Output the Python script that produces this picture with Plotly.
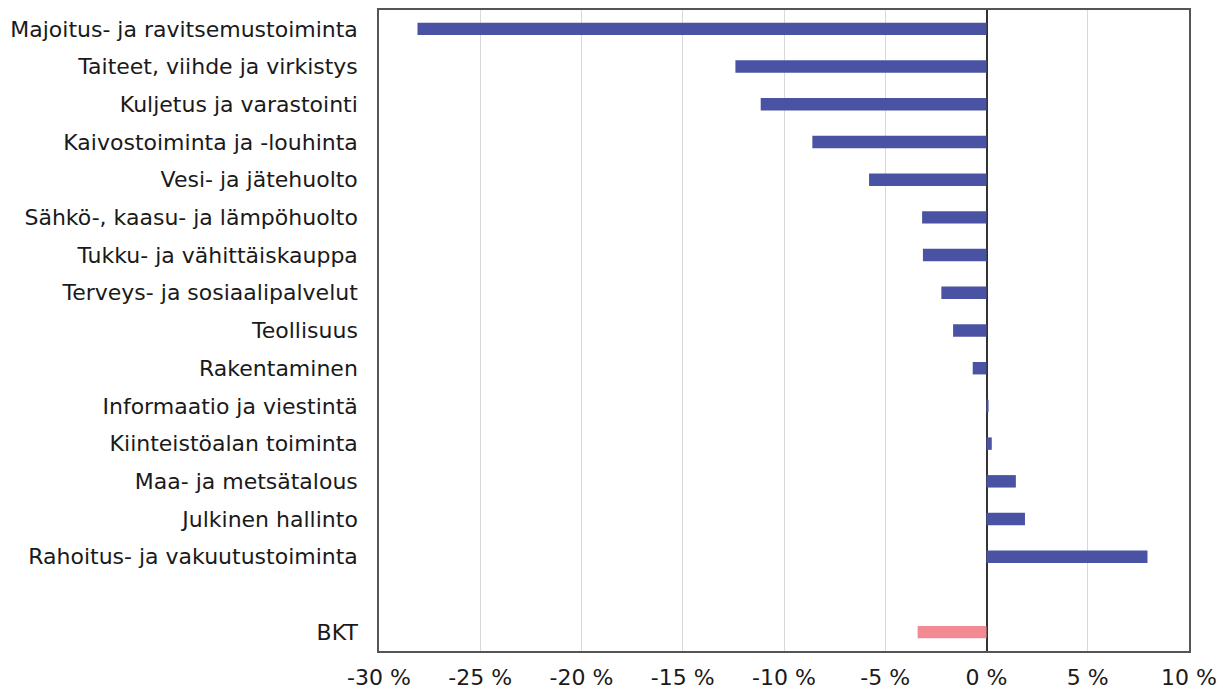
import plotly.graph_objects as go

# Toimialat ja muutos (%)
categories = [
    "Majoitus- ja ravitsemustoiminta",
    "Taiteet, viihde ja virkistys",
    "Kuljetus ja varastointi",
    "Kaivostoiminta ja -louhinta",
    "Vesi- ja jätehuolto",
    "Sähkö-, kaasu- ja lämpöhuolto",
    "Tukku- ja vähittäiskauppa",
    "Terveys- ja sosiaalipalvelut",
    "Teollisuus",
    "Rakentaminen",
    "Informaatio ja viestintä",
    "Kiinteistöalan toiminta",
    "Maa- ja metsätalous",
    "Julkinen hallinto",
    "Rahoitus- ja vakuutustoiminta",
]
values = [-28.1, -12.4, -11.15, -8.6, -5.8, -3.18, -3.14, -2.23, -1.65, -0.68,
          0.1, 0.26, 1.45, 1.9, 7.95]

gdp_label = "BKT"
gdp_value = -3.4

x_ticks = [-30, -25, -20, -15, -10, -5, 0, 5, 10]
x_tick_text = ["-30 %", "-25 %", "-20 %", "-15 %", "-10 %", "-5 %", "0 %", "5 %", "10 %"]

ind_pos = list(range(len(categories)))
gdp_pos = len(categories) + 1  # one empty slot between industries and GDP

fig = go.Figure()
fig.add_trace(go.Bar(
    x=values, y=ind_pos, orientation="h", width=0.33,
    marker=dict(color="#4A53A3", line=dict(width=0)),
))
fig.add_trace(go.Bar(
    x=[gdp_value], y=[gdp_pos], orientation="h", width=0.33,
    marker=dict(color="#F28A93", line=dict(width=0)),
))

font = "DejaVu Sans, Liberation Sans, sans-serif"
fig.update_layout(
    width=1223, height=693,
    margin=dict(l=379, r=34, t=10, b=42),
    paper_bgcolor="white", plot_bgcolor="white",
    showlegend=False,
    font=dict(family=font, size=22, color="#1a1a1a"),
    xaxis=dict(
        range=[-30, 10], tickvals=x_ticks, ticktext=x_tick_text,
        showgrid=True, gridcolor="#D9D9D9", gridwidth=1.2,
        zeroline=True, zerolinecolor="#333333", zerolinewidth=1.5,
        showline=True, linecolor="#555555", linewidth=1.5, mirror=True,
        ticks="", ticklabelstandoff=6, automargin=False,
    ),
    yaxis=dict(
        range=[gdp_pos + 0.5, -0.5],
        tickvals=ind_pos + [gdp_pos], ticktext=categories + [gdp_label],
        showgrid=False, zeroline=False,
        showline=True, linecolor="#555555", linewidth=1.5, mirror=True,
        ticks="", ticklabelstandoff=15, automargin=False,
    ),
)

fig.write_html("out.html")
